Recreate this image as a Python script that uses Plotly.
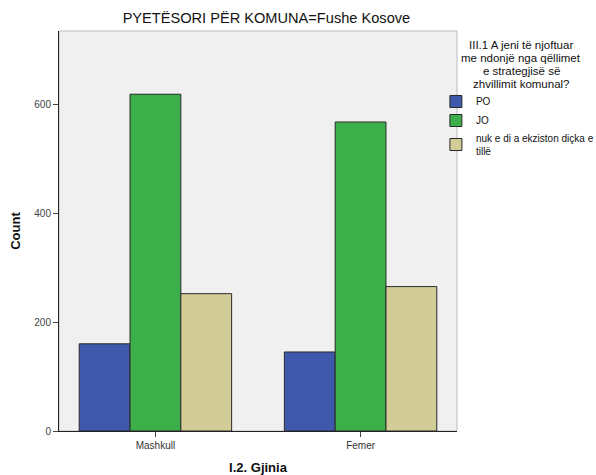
import plotly.graph_objects as go

categories = ["Mashkull", "Femer"]
series_names = ["PO", "JO", "nuk e di a ekziston diçka e<br>tillë"]
po_values = [160, 145]
jo_values = [618, 567]
nuk_values = [252, 265]
colors = ["#3E58AC", "#3CAF4B", "#D2CC97"]
y_ticks = [0, 200, 400, 600]
legend_title_lines = [
    "III.1 A jeni të njoftuar",
    "me ndonjë nga qëllimet",
    "e strategjisë së",
    "zhvillimit komunal?",
]

fig = go.Figure()
for name, vals, col in zip(series_names, [po_values, jo_values, nuk_values], colors):
    fig.add_trace(go.Bar(
        x=categories, y=vals, name=name,
        marker=dict(color=col, line=dict(color="#2A2A2A", width=1)),
    ))

fig.update_layout(
    width=596, height=475,
    margin=dict(l=59, r=139, t=31, b=44, autoexpand=False),
    paper_bgcolor="white",
    plot_bgcolor="#F0F0F0",
    barmode="group",
    bargap=0.257,
    bargroupgap=0,
    font=dict(family="Liberation Sans, Arial, sans-serif", color="#333333"),
    title=dict(
        text="PYETËSORI PËR KOMUNA=Fushe Kosove",
        x=0.447, xanchor="center", y=0.962, yanchor="middle",
        font=dict(size=14.6, color="#111111"),
    ),
    xaxis=dict(
        range=[-0.47, 1.47],
        showline=True, linecolor="#222222", linewidth=1,
        ticks="outside", ticklen=5, tickcolor="#444444",
        tickfont=dict(size=10, color="#333333"),
        title=dict(text="<b>I.2. Gjinia</b>", font=dict(size=13, color="#111111"), standoff=12),
    ),
    yaxis=dict(
        range=[0, 734],
        tickvals=y_ticks,
        showgrid=False, zeroline=False,
        showline=True, linecolor="#222222", linewidth=1,
        ticks="outside", ticklen=5, tickcolor="#444444",
        tickfont=dict(size=10, color="#444444"),
        title=dict(text="<b>Count</b>", font=dict(size=13, color="#111111"), standoff=10),
    ),
    legend=dict(
        x=0.947, xanchor="left", y=0.86, yanchor="top",
        xref="paper", yref="paper",
        bgcolor="rgba(0,0,0,0)",
        font=dict(size=10, color="#111111"),
        tracegroupgap=0,
        itemwidth=30,
    ),
    showlegend=True,
)

for i, line in enumerate(legend_title_lines):
    fig.add_annotation(
        text=line, xref="paper", yref="paper",
        x=1.161, y=0.965 - i * 0.0325, xanchor="center", yanchor="middle",
        showarrow=False, font=dict(size=11.5, color="#111111"),
    )

# light border on the top and right of the plot area
fig.add_shape(type="rect", xref="paper", yref="paper", x0=0, y0=0, x1=1, y1=1,
              line=dict(color="#BBBBBB", width=1), layer="below")

fig.write_html("out.html", config={"displayModeBar": False},
               post_script="document.body.style.margin='0';")
